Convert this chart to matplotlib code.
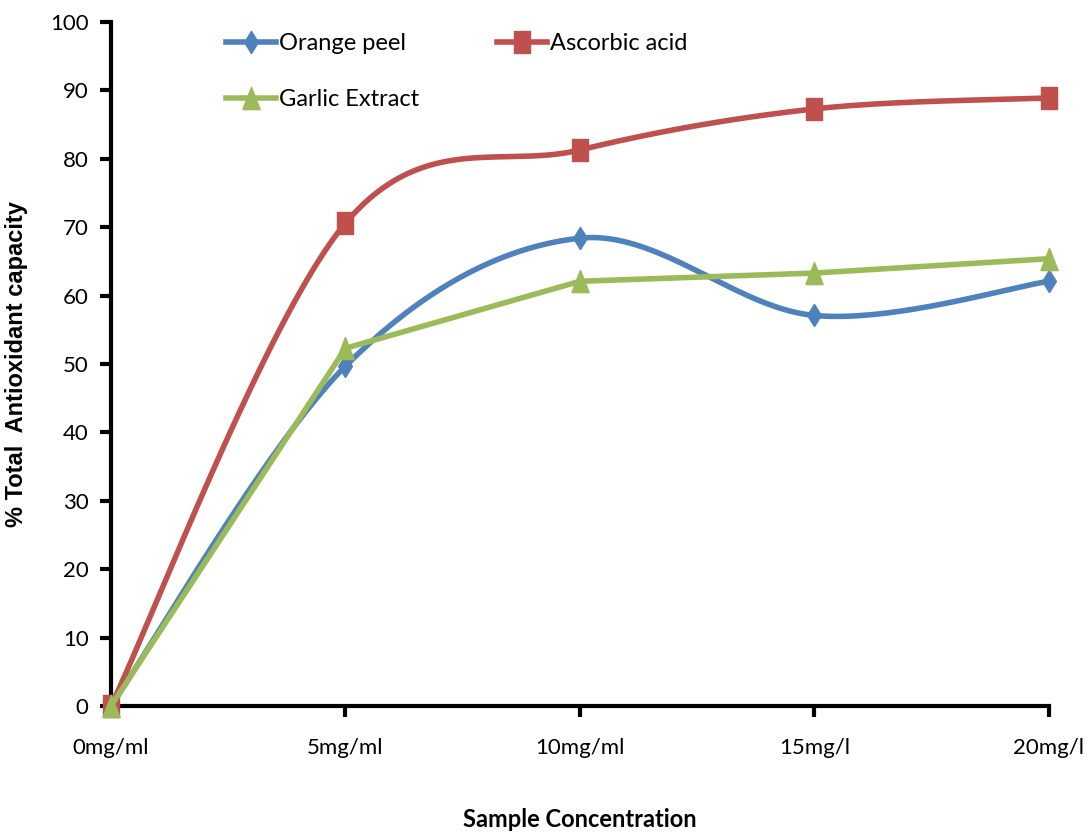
import numpy as np
import matplotlib
matplotlib.use("Agg")
import matplotlib.pyplot as plt
from matplotlib.lines import Line2D

# data
concentrations = ['0mg/ml', '5mg/ml', '10mg/ml', '15mg/l', '20mg/l']
orange_peel = [0, 49.7, 68.4, 57.1, 62.1]
ascorbic_acid = [0, 70.6, 81.3, 87.3, 88.9]
garlic_extract = [0, 52.3, 62.1, 63.3, 65.4]

BLUE = '#4F81BD'
RED = '#C0504D'
GREEN = '#9BBB59'
FONTE = ['Lato', 'DejaVu Sans']

# marcadores um pouco esticados na vertical, como no original
DIAMANTE = [(0, -1), (0.62, 0), (0, 1), (-0.62, 0), (0, -1)]
QUADRADO = [(-0.74, -1), (0.74, -1), (0.74, 1), (-0.74, 1), (-0.74, -1)]
TRIANGULO = [(-0.78, -1), (0.78, -1), (0, 1), (-0.78, -1)]


def smooth(xs, ys, sx=234.5, sy=6.84, n=40):
    """curva suavizada estilo Excel (bezier cardinal), em espaco de pixels"""
    px = np.asarray(xs, float) * sx
    py = np.asarray(ys, float) * sy
    pts = np.column_stack([px, py])
    ext = np.vstack([pts[0], pts, pts[-1]])
    out = []
    t = np.linspace(0, 1, n)[:, None]
    for i in range(len(pts) - 1):
        p0 = ext[i + 1]
        p3 = ext[i + 2]
        c1 = p0 + (ext[i + 2] - ext[i]) / 6.0
        c2 = p3 - (ext[i + 3] - ext[i + 1]) / 6.0
        seg = ((1 - t) ** 3) * p0 + 3 * ((1 - t) ** 2) * t * c1 + 3 * (1 - t) * t ** 2 * c2 + t ** 3 * p3
        out.append(seg if i == 0 else seg[1:])
    out = np.vstack(out)
    return out[:, 0] / sx, out[:, 1] / sy


x = np.arange(len(concentrations))

fig = plt.figure(figsize=(10.91, 8.38), dpi=100)
ax = fig.add_axes([0.1017, 0.1575, 0.8598, 0.8162])

lw = 4.0
ms = 16
# orange peel
sx_, sy_ = smooth(x, orange_peel)
ax.plot(sx_, sy_, color=BLUE, lw=lw, clip_on=False, zorder=3)
ax.plot(x, orange_peel, ls='none', marker=DIAMANTE, ms=ms, color=BLUE, clip_on=False, zorder=4)
# ascorbic acid
sx_, sy_ = smooth(x, ascorbic_acid)
ax.plot(sx_, sy_, color=RED, lw=lw, clip_on=False, zorder=3)
ax.plot(x, ascorbic_acid, ls='none', marker=QUADRADO, ms=ms, color=RED, clip_on=False, zorder=4)
# garlic extract (linhas retas)
ax.plot(x, garlic_extract, color=GREEN, lw=lw, marker=TRIANGULO, ms=ms, clip_on=False, zorder=5)

ax.set_xlim(0, 4)
ax.set_ylim(0, 100)
ax.set_yticks(range(0, 101, 10))
ax.set_xticks(x)
ax.set_xticklabels(concentrations)

for s in ['top', 'right']:
    ax.spines[s].set_visible(False)
for s in ['left', 'bottom']:
    ax.spines[s].set_linewidth(3)
    ax.spines[s].set_color('black')
ax.tick_params(axis='both', width=3, length=8, direction='out', labelsize=16)
ax.tick_params(axis='x', pad=15)
ax.tick_params(axis='y', pad=8)
for lab in ax.get_xticklabels() + ax.get_yticklabels():
    lab.set_fontfamily(FONTE)

ax.set_xlabel('Sample Concentration', fontsize=17, fontweight='bold',
              family=FONTE, labelpad=36)
ax.set_ylabel('% Total  Antioxidant capacity', fontsize=17, fontweight='bold',
              family=['Liberation Sans', 'DejaVu Sans'])
ax.yaxis.set_label_coords(-0.088, 0.5)

h_orange = Line2D([], [], color=BLUE, lw=lw, marker=DIAMANTE, ms=ms)
h_garlic = Line2D([], [], color=GREEN, lw=lw, marker=TRIANGULO, ms=ms)
h_asc = Line2D([], [], color=RED, lw=lw, marker=QUADRADO, ms=ms)
leg = ax.legend([h_orange, h_garlic, h_asc], ['Orange peel', 'Garlic Extract', 'Ascorbic acid'],
                ncol=2, frameon=False, loc='upper left', bbox_to_anchor=(0.1, 1.015),
                handlelength=2.1, handletextpad=0.15, columnspacing=3.3, labelspacing=1.5,
                prop={'family': FONTE, 'size': 17})

fig.savefig('out.png', dpi=100)
